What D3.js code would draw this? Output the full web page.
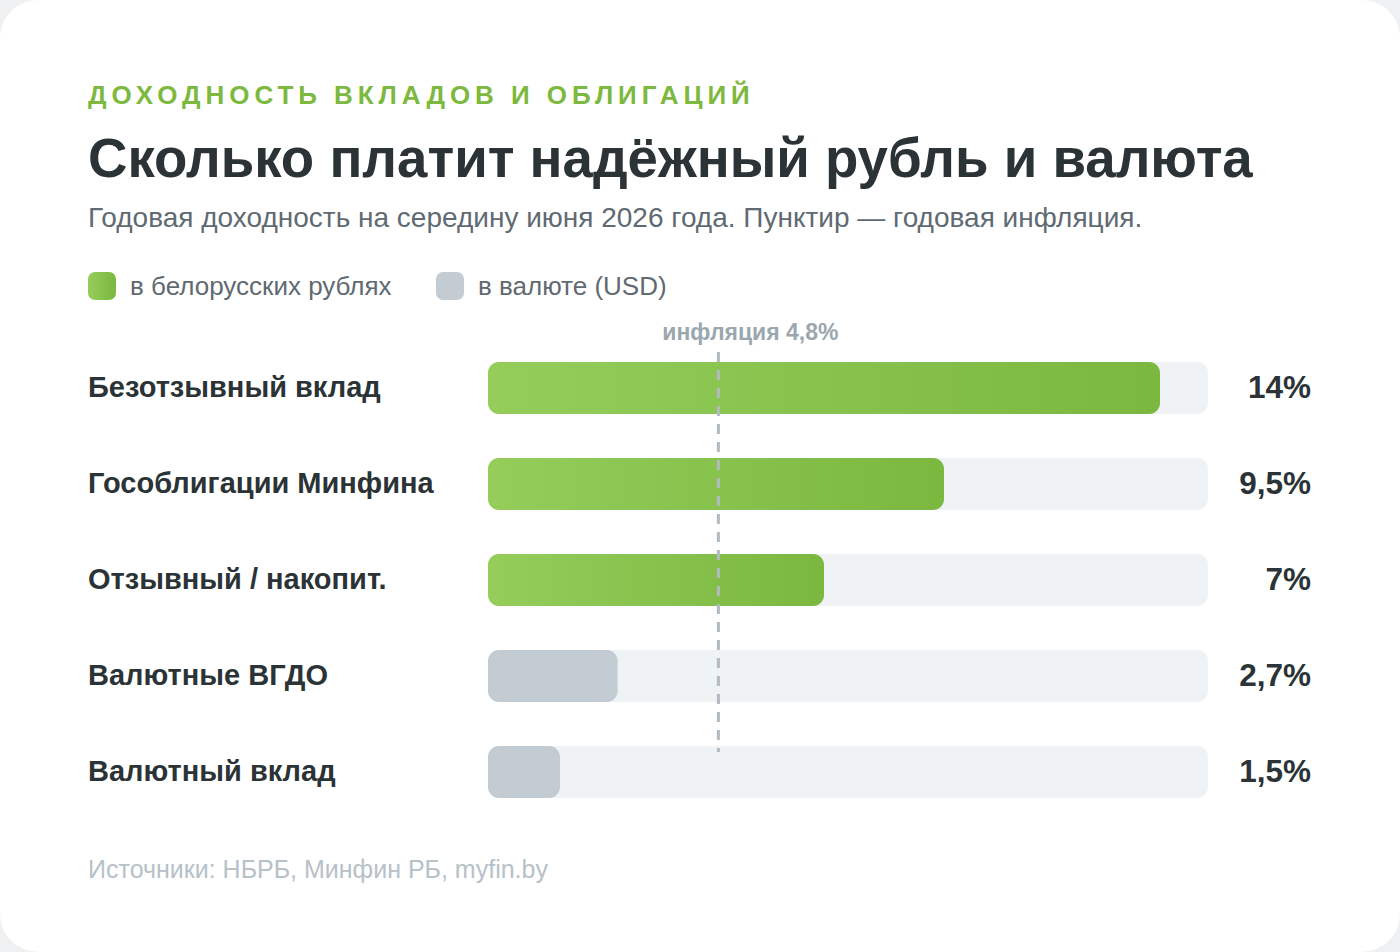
<!DOCTYPE html>
<html>
<head>
<meta charset="utf-8">
<script src="https://cdn.jsdelivr.net/npm/d3@7"></script>
<style>
  body { margin: 0; background: #eef0f2; font-family: "Liberation Sans", Arial, sans-serif; }
  svg { display: block; }
</style>
</head>
<body>
<div id="chart"></div>
<script>
// data
var categories = ["Безотзывный вклад", "Гособлигации Минфина", "Отзывный / накопит.", "Валютные ВГДО", "Валютный вклад"]
var values = [14, 9.5, 7, 2.7, 1.5]
var valueLabels = ["14%", "9,5%", "7%", "2,7%", "1,5%"]
var currency = ["byn", "byn", "byn", "usd", "usd"]
var legendItems = ["в белорусских рублях", "в валюте (USD)"]
var inflation = 4.8
var inflationLabel = "инфляция 4,8%"

var width = 1400, height = 952

var svg = d3.select("#chart").append("svg")
  .attr("width", width)
  .attr("height", height)

var defs = svg.append("defs")
var grad = defs.append("linearGradient").attr("id", "green")
  .attr("x1", "0%").attr("x2", "100%").attr("y1", "0%").attr("y2", "0%")
grad.append("stop").attr("offset", "0%").attr("stop-color", "#95cd5b")
grad.append("stop").attr("offset", "100%").attr("stop-color", "#7ab83f")

// card
svg.append("rect")
  .attr("width", width).attr("height", height)
  .attr("rx", 38).attr("fill", "#ffffff")

// header texts
svg.append("text")
  .attr("x", 88).attr("y", 104)
  .attr("fill", "#7cb93e")
  .attr("font-size", 26).attr("font-weight", "bold")
  .attr("letter-spacing", "0.19em")
  .text("ДОХОДНОСТЬ ВКЛАДОВ И ОБЛИГАЦИЙ")

svg.append("text")
  .attr("x", 88).attr("y", 177)
  .attr("fill", "#2b3336")
  .attr("font-size", 54.6).attr("font-weight", "bold")
  .text("Сколько платит надёжный рубль и валюта")

svg.append("text")
  .attr("x", 88).attr("y", 227)
  .attr("fill", "#5f6a72")
  .attr("font-size", 28)
  .text("Годовая доходность на середину июня 2026 года. Пунктир — годовая инфляция.")

// legend
var legendX = [88, 436]
var legend = svg.append("g").selectAll("g")
  .data(legendItems).enter().append("g")
  .attr("transform", function(d, i) { return "translate(" + legendX[i] + ",272)" })

legend.append("rect")
  .attr("width", 28).attr("height", 28).attr("rx", 7)
  .attr("fill", function(d, i) { return i === 0 ? "url(#green)" : "#c4ccd3" })

legend.append("text")
  .attr("x", 42).attr("y", 23)
  .attr("fill", "#5f6a72")
  .attr("font-size", 26)
  .text(function(d) { return d })

// scales
var x = d3.scaleLinear().domain([0, 15]).range([488, 1208])
var y = d3.scaleBand().domain(categories).range([362, 798]).paddingInner(44 / 96).paddingOuter(0)
var barH = y.bandwidth()

var rows = svg.append("g").selectAll("g")
  .data(categories).enter().append("g")
  .attr("transform", function(d) { return "translate(0," + y(d) + ")" })

// tracks
rows.append("rect")
  .attr("x", x(0)).attr("width", x(15) - x(0))
  .attr("height", barH).attr("rx", 11)
  .attr("fill", "#eff3f6")

// bars
rows.append("rect")
  .attr("x", x(0))
  .attr("width", function(d, i) { return x(values[i]) - x(0) })
  .attr("height", barH).attr("rx", 11)
  .attr("fill", function(d, i) { return currency[i] === "byn" ? "url(#green)" : "#c4ccd3" })

// category labels
rows.append("text")
  .attr("x", 88).attr("y", barH / 2 + 9)
  .attr("fill", "#2b3336")
  .attr("font-size", 29).attr("font-weight", "bold")
  .text(function(d) { return d })

// value labels
rows.append("text")
  .attr("x", 1311).attr("y", barH / 2 + 10)
  .attr("text-anchor", "end")
  .attr("fill", "#2b3336")
  .attr("font-size", 31.5).attr("font-weight", "bold")
  .text(function(d, i) { return valueLabels[i] })

// inflation line
svg.append("line")
  .attr("x1", x(inflation)).attr("x2", x(inflation))
  .attr("y1", 352).attr("y2", 752)
  .attr("stroke", "#b3bac1").attr("stroke-width", 3)
  .attr("stroke-dasharray", "10,8")

svg.append("text")
  .attr("x", x(inflation) + 32).attr("y", 340)
  .attr("text-anchor", "middle")
  .attr("fill", "#9ba7af")
  .attr("font-size", 23).attr("font-weight", "bold")
  .text(inflationLabel)

// footer
svg.append("text")
  .attr("x", 88).attr("y", 878)
  .attr("fill", "#b6c1c8")
  .attr("font-size", 25)
  .text("Источники: НБРБ, Минфин РБ, myfin.by")
</script>
</body>
</html>
